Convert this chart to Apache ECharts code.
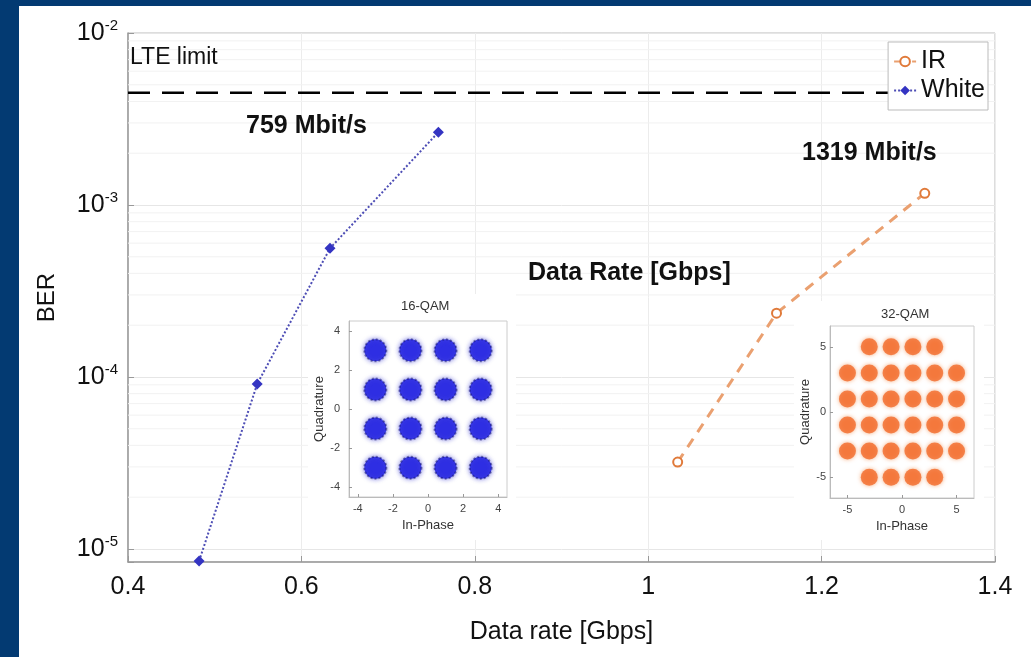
<!DOCTYPE html>
<html>
<head>
<meta charset="utf-8">
<script src="https://cdn.jsdelivr.net/npm/echarts@6/dist/echarts.min.js"></script>
<style>
  html, body { margin: 0; padding: 0; background: #fff; }
  #main { width: 1031px; height: 657px; }
</style>
</head>
<body>
<div id="main"></div>
<script>
// main curves
const rateWhite = [0.482, 0.549, 0.633, 0.758];
const berWhite = [8.5e-6, 9.1e-5, 5.6e-4, 2.65e-3];
const rateIR = [1.034, 1.148, 1.319];
const berIR = [3.2e-5, 2.35e-4, 1.17e-3];
const lteLimit = 4.5e-3;
const lteRange = [0.4, 1.285];   // dashed line stops at the legend box
const rateRange = [0.4, 1.4];
const minorBer = [2e-5, 3e-5, 4e-5, 5e-5, 6e-5, 7e-5, 8e-5, 9e-5,
  2e-4, 3e-4, 4e-4, 5e-4, 6e-4, 7e-4, 8e-4, 9e-4,
  2e-3, 3e-3, 4e-3, 5e-3, 6e-3, 7e-3, 8e-3, 9e-3];

// constellation insets (ideal symbol positions)
const qam16 = [[-3, 3], [-1, 3], [1, 3], [3, 3], [-3, 1], [-1, 1], [1, 1], [3, 1],
  [-3, -1], [-1, -1], [1, -1], [3, -1], [-3, -3], [-1, -3], [1, -3], [3, -3]];
const qam32 = [[-3, 5], [-1, 5], [1, 5], [3, 5],
  [-5, 3], [-3, 3], [-1, 3], [1, 3], [3, 3], [5, 3],
  [-5, 1], [-3, 1], [-1, 1], [1, 1], [3, 1], [5, 1],
  [-5, -1], [-3, -1], [-1, -1], [1, -1], [3, -1], [5, -1],
  [-5, -3], [-3, -3], [-1, -3], [1, -3], [3, -3], [5, -3],
  [-3, -5], [-1, -5], [1, -5], [3, -5]];
const ticks16 = [-4, -2, 0, 2, 4];
const ticks32 = [-5, 0, 5];

const font = 'Liberation Sans, Arial, sans-serif';
const navy = '#033a72';

const zip = (a, b) => a.map((v, i) => [v, b[i]]);
// horizontal segments, broken between levels
const hLines = (levels, range) => levels.flatMap(v => [[range[0], v], [range[1], v], [range[1], '-']]);

const insetAxis = (min, max, ticks, name, gap, margin) => ({
  type: 'value', min: min, max: max, z: 7,
  name: name, nameLocation: 'middle', nameGap: gap,
  nameTextStyle: { fontSize: 13, color: '#333', fontFamily: font },
  axisLine: { show: true, onZero: false, lineStyle: { color: '#bbb' } },
  axisTick: { show: true, inside: true, length: 3, customValues: ticks, lineStyle: { color: '#999' } },
  axisLabel: { fontSize: 11, color: '#444', margin: margin, customValues: ticks, fontFamily: font },
  splitLine: { show: false }
});

var chart = echarts.init(document.getElementById('main'));

const option = {
  backgroundColor: '#fff',
  animation: false,
  textStyle: { fontFamily: font },
  grid: [
    { left: 128, top: 33, width: 867, height: 529, show: true, borderColor: '#bbb', backgroundColor: '#fff' },
    { left: 349, top: 321, width: 158, height: 176, show: true, borderColor: '#ccc', backgroundColor: '#fff', z: 5 },
    { left: 830, top: 326, width: 144, height: 172, show: true, borderColor: '#ccc', backgroundColor: '#fff', z: 5 }
  ],
  legend: {
    data: ['IR', 'White'],
    orient: 'vertical',
    right: 43, top: 42, z: 10,
    padding: [7, 3, 7, 5],
    itemGap: 4,
    itemWidth: 22, itemHeight: 12,
    backgroundColor: '#fff',
    borderColor: '#bbb', borderWidth: 1,
    textStyle: { fontSize: 25, color: '#111', fontFamily: font }
  },
  xAxis: [
    {
      type: 'value', gridIndex: 0, min: 0.4, max: 1.4, interval: 0.2,
      name: 'Data rate [Gbps]', nameLocation: 'middle', nameGap: 58,
      nameTextStyle: { fontSize: 25, color: '#111' },
      axisLine: { lineStyle: { color: '#999', width: 1.5 } },
      axisTick: { inside: true, length: 6, lineStyle: { color: '#999' } },
      axisLabel: { fontSize: 25, color: '#111', margin: 13, formatter: v => String(+v.toFixed(1)) },
      splitLine: { show: true, lineStyle: { color: '#ececec' } }
    },
    Object.assign(insetAxis(-4.5, 4.5, ticks16, 'In-Phase', 22, 6), { gridIndex: 1 }),
    Object.assign(insetAxis(-6.6, 6.6, ticks32, 'In-Phase', 22, 6), { gridIndex: 2 })
  ],
  yAxis: [
    {
      type: 'log', logBase: 10, gridIndex: 0, min: 8.4e-6, max: 1e-2,
      name: 'BER', nameLocation: 'middle', nameGap: 69,
      nameTextStyle: { fontSize: 24, color: '#111' },
      axisLine: { lineStyle: { color: '#999', width: 1.5 } },
      axisTick: { inside: true, length: 6, lineStyle: { color: '#999' } },
      axisLabel: {
        margin: 10, color: '#111',
        formatter: v => {
          const e = Math.log10(v);
          const r = Math.round(e);
          if (Math.abs(e - r) > 1e-6) return '';
          return '{b|10}{s|' + r + '}';
        },
        rich: {
          b: { fontSize: 25, color: '#111', fontFamily: font },
          s: { fontSize: 15, color: '#111', fontFamily: font, padding: [0, 0, 14, 0] }
        }
      },
      splitLine: { show: true, lineStyle: { color: '#e6e6e6' } }
    },
    Object.assign(insetAxis(-4.5, 4.5, ticks16, 'Quadrature', 18, 9), { gridIndex: 1 }),
    Object.assign(insetAxis(-6.6, 6.6, ticks32, 'Quadrature', 14, 4), { gridIndex: 2 })
  ],
  series: [
    {
      name: 'minor grid', type: 'line', xAxisIndex: 0, yAxisIndex: 0,
      data: hLines(minorBer, rateRange), showSymbol: false, silent: true, connectNulls: false, z: 1,
      lineStyle: { color: '#f2f2f2', width: 1 }
    },
    {
      name: 'LTE limit', type: 'line', xAxisIndex: 0, yAxisIndex: 0,
      data: hLines([lteLimit], lteRange), showSymbol: false, silent: true, z: 3,
      lineStyle: { color: '#000', type: [22, 12], width: 2.5 }
    },
    {
      name: 'IR', type: 'line', xAxisIndex: 0, yAxisIndex: 0,
      data: zip(rateIR, berIR),
      symbol: 'circle', symbolSize: 9,
      itemStyle: { color: '#fff', borderColor: '#e07a3a', borderWidth: 2 },
      lineStyle: { color: '#eaa070', width: 3, type: [10, 8] },
      z: 4
    },
    {
      name: 'White', type: 'line', xAxisIndex: 0, yAxisIndex: 0,
      data: zip(rateWhite, berWhite),
      symbol: 'diamond', symbolSize: 11,
      itemStyle: { color: '#3434c2' },
      lineStyle: { color: '#4d4db5', width: 2, type: 'dotted' },
      z: 4
    },
    {
      name: '16-QAM', type: 'scatter', xAxisIndex: 1, yAxisIndex: 1,
      data: qam16, symbol: 'circle', symbolSize: 22, z: 6,
      itemStyle: {
        color: '#1c1ce4', borderColor: 'rgba(10,10,90,0.55)', borderWidth: 2, borderType: 'dotted',
        shadowBlur: 5, shadowColor: 'rgba(20,20,200,0.7)'
      }
    },
    {
      name: '32-QAM', type: 'scatter', xAxisIndex: 2, yAxisIndex: 2,
      data: qam32, symbol: 'circle', symbolSize: 17, z: 6,
      itemStyle: { color: '#f26a2b', shadowBlur: 4, shadowColor: 'rgba(242,130,60,0.8)' }
    }
  ],
  graphic: [
    { type: 'rect', left: 0, top: 0, shape: { width: 1031, height: 6 }, style: { fill: navy }, z: 100 },
    { type: 'rect', left: 0, top: 0, shape: { width: 19, height: 657 }, style: { fill: navy }, z: 100 },
    // white backing of the two inset figures
    { type: 'rect', left: 308, top: 294, shape: { width: 208, height: 246 }, style: { fill: '#fff' }, z: 3 },
    { type: 'rect', left: 794, top: 301, shape: { width: 190, height: 239 }, style: { fill: '#fff' }, z: 3 },
    { type: 'text', left: 130, top: 46, style: { text: 'LTE limit', fontSize: 23, fill: '#111', fontFamily: font }, z: 50 },
    { type: 'text', left: 246, top: 114, style: { text: '759 Mbit/s', fontSize: 25, fontWeight: 'bold', fill: '#111', fontFamily: font }, z: 50 },
    { type: 'text', left: 802, top: 141, style: { text: '1319 Mbit/s', fontSize: 25, fontWeight: 'bold', fill: '#111', fontFamily: font }, z: 50 },
    { type: 'text', left: 528, top: 261, style: { text: 'Data Rate [Gbps]', fontSize: 25, fontWeight: 'bold', fill: '#111', fontFamily: font }, z: 50 },
    { type: 'text', left: 401, top: 300, style: { text: '16-QAM', fontSize: 13, fill: '#333', fontFamily: font }, z: 50 },
    { type: 'text', left: 881, top: 308, style: { text: '32-QAM', fontSize: 13, fill: '#333', fontFamily: font }, z: 50 }
  ]
};

chart.setOption(option);
</script>
</body>
</html>
